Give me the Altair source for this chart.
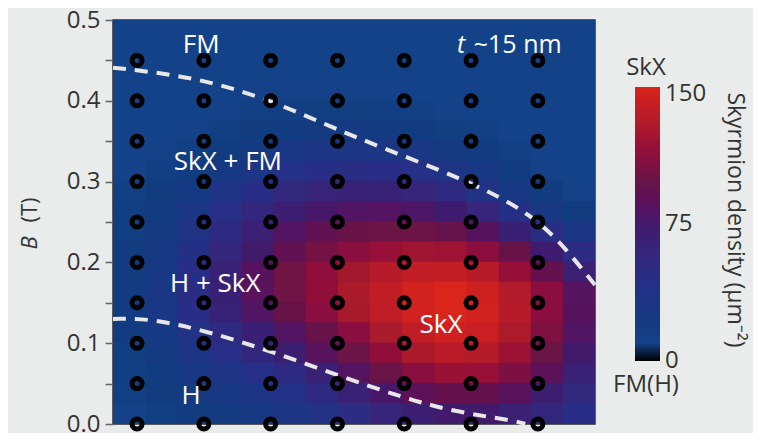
import altair as alt
import numpy as np
import pandas as pd

# ---------------- data ----------------
X_MIN, X_MAX = 0.64, 7.855     # horizontal extent (measurement column index)
B_MIN, B_MAX = 0.0, 0.5        # field (T)

density_rows = [
    [10, 10, 10, 10, 10, 10, 10, 10, 10, 10, 10, 10, 10, 10, 10],
    [10, 10, 10, 10, 10, 10, 10, 10, 10, 10, 10, 10, 10, 10, 10],
    [10, 10, 10, 10, 10, 10, 10, 10, 10, 10, 10, 10, 10, 10, 10],
    [10, 10, 10, 10, 11, 11, 11, 11, 11, 10, 10, 10, 10, 10, 10],
    [10, 10, 10, 11, 12, 13, 14, 14, 13, 12, 11, 10, 10, 10, 10],
    [10, 10, 11, 13, 16, 18, 20, 20, 19, 17, 14, 12, 10, 10, 10],
    [10, 11, 14, 18, 23, 28, 31, 32, 31, 28, 23, 17, 12, 10, 10],
    [11, 13, 18, 25, 33, 40, 45, 47, 46, 42, 35, 26, 17, 11, 10],
    [12, 16, 24, 34, 45, 55, 62, 65, 64, 60, 51, 39, 26, 15, 11],
    [13, 19, 30, 44, 58, 70, 78, 82, 83, 80, 73, 60, 43, 27, 15],
    [14, 22, 36, 52, 68, 82, 92, 98, 101, 101, 96, 85, 67, 47, 30],
    [15, 25, 41, 58, 76, 92, 104, 112, 118, 122, 121, 113, 97, 75, 50],
    [16, 27, 45, 65, 85, 102, 114, 124, 132, 138, 139, 133, 117, 95, 68],
    [17, 29, 47, 67, 86, 102, 115, 127, 138, 146, 150, 144, 130, 112, 84],
    [17, 28, 45, 64, 82, 98, 112, 125, 137, 146, 150, 146, 132, 112, 85],
    [15, 24, 38, 52, 67, 82, 97, 112, 126, 138, 145, 142, 128, 108, 82],
    [14, 21, 32, 44, 57, 71, 86, 101, 115, 127, 134, 132, 120, 100, 76],
    [13, 18, 26, 34, 42, 52, 66, 83, 99, 111, 119, 118, 107, 88, 66],
    [12, 15, 20, 26, 32, 40, 51, 65, 78, 88, 95, 95, 86, 72, 55],
    [11, 13, 16, 20, 25, 31, 39, 49, 60, 70, 76, 76, 68, 57, 45],
]

# measurement points
sample_cols = [1, 2, 3, 4, 5, 6, 7]
sample_fields = [0.0, 0.05, 0.10, 0.15, 0.20, 0.25, 0.30, 0.35, 0.40, 0.45]

# phase boundaries (dashed)
upper_x = [0.64, 1.84, 2.99, 4.26, 5.95, 6.93, 7.44, 7.855]
upper_b = [0.441, 0.430, 0.402, 0.354, 0.302, 0.259, 0.215, 0.172]
lower_x = [0.64, 1.19, 2.09, 3.04, 4.08, 5.01, 5.76, 6.66, 6.81]
lower_b = [0.130, 0.131, 0.114, 0.089, 0.058, 0.032, 0.015, 0.004, 0.0]

# region labels
label_text = ["FM", "SkX + FM", "H + SkX", "SkX", "H"]
label_x = [1.96, 2.36, 2.17, 5.55, 1.81]
label_b = [0.469, 0.324, 0.173, 0.1225, 0.035]
thick_x = [5.79, 6.04]
thick_b = [0.469, 0.469]
thick_text = ["t", "~15 nm"]

# colour bar
cbar_ticks = [0, 75, 150]
color_stops = [0, 2.5, 4, 15, 45, 75, 100, 125, 150]
color_range = ["#000000", "#000000", "#184893", "#113d80", "#282e86",
               "#3e1b6e", "#691545", "#a61a2c", "#d9251b"]

FONT = "Open Sans"

# ---------------- tables ----------------
n_rows, n_cols = len(density_rows), len(density_rows[0])
x_edges = np.linspace(X_MIN, X_MAX, n_cols + 1)
b_edges = np.linspace(B_MAX, B_MIN, n_rows + 1)
ex, eb = 0.012, 0.0009   # tiny overlap so neighbouring cells leave no seams
cells = []
for i, row in enumerate(density_rows):
    for j, v in enumerate(row):
        cells.append({"x": x_edges[j], "x2": min(x_edges[j + 1] + ex, X_MAX),
                      "b": b_edges[i + 1], "b2": min(b_edges[i] + eb, B_MAX),
                      "density": v})
cells = pd.DataFrame(cells)

points = pd.DataFrame([{"x": c, "b": f} for f in sample_fields for c in sample_cols])

bounds = pd.DataFrame(
    [{"x": x, "b": b, "line": "upper", "o": k} for k, (x, b) in enumerate(zip(upper_x, upper_b))]
    + [{"x": x, "b": b, "line": "lower", "o": k} for k, (x, b) in enumerate(zip(lower_x, lower_b))]
)

labels = pd.DataFrame({"x": label_x, "b": label_b, "text": label_text})

xscale = alt.Scale(domain=[X_MIN, X_MAX], nice=False, zero=False)
yscale = alt.Scale(domain=[B_MIN, B_MAX], nice=False, zero=False)
cscale = alt.Scale(domain=color_stops, range=color_range)

yaxis = alt.Axis(
    values=[round(0.05 * k, 2) for k in range(11)],
    labelExpr="round(datum.value*20) % 2 == 0 ? format(datum.value, '.1f') : ''",
    tickSize=8, tickWidth=1.5, tickColor="#666", domain=False, grid=False,
    labelFontSize=24, labelFont=FONT, labelColor="#333", labelPadding=5, title=None,
)

# colour-bar geometry (pixels, relative to the plot's top-left corner)
CB_X, CB_TOP, CB_LEN, CB_W = 522, 67, 274, 25

heat = alt.Chart(cells).mark_rect(strokeWidth=0).encode(
    x=alt.X("x:Q", scale=xscale, axis=None),
    x2="x2:Q",
    y=alt.Y("b:Q", scale=yscale, axis=yaxis),
    y2="b2:Q",
    color=alt.Color(
        "density:Q", scale=cscale, title=None,
        legend=alt.Legend(
            type="gradient", orient="none", legendX=CB_X, legendY=CB_TOP, direction="vertical",
            gradientLength=CB_LEN, gradientThickness=CB_W, values=cbar_ticks,
            labelExpr="''", labelFontSize=24, gradientStrokeWidth=0,
        ),
    ),
)

# colour-bar tick labels, centred on their values along the bar
cbar_lab = pd.DataFrame({"v": cbar_ticks, "text": [str(t) for t in cbar_ticks]})
cbar_labels = alt.Chart(cbar_lab).transform_calculate(
    py=f"{CB_TOP} + {CB_LEN} * (1 - datum.v / {color_stops[-1]}) + (datum.v == 150 ? 7 : 0)"
).mark_text(
    fontSize=24, font=FONT, color="#333", align="left", baseline="middle"
).encode(x=alt.value(CB_X + CB_W + 5), y=alt.Y("py:Q", scale=None), text="text:N")

pts = alt.Chart(points).mark_point(
    shape="circle", filled=False, color="#000000", strokeWidth=5, size=100, opacity=1
).encode(x=alt.X("x:Q", scale=xscale), y=alt.Y("b:Q", scale=yscale))

lines = alt.Chart(bounds).mark_line(
    strokeDash=[13, 9], strokeWidth=4, color="#e8e8e8", interpolate="basis"
).encode(
    x=alt.X("x:Q", scale=xscale), y=alt.Y("b:Q", scale=yscale),
    detail="line:N", order="o:Q",
)

txt = alt.Chart(labels).mark_text(
    color="white", fontSize=26, font=FONT, baseline="middle", align="center"
).encode(
    x=alt.X("x:Q", scale=xscale), y=alt.Y("b:Q", scale=yscale), text="text:N",
)

t_df = pd.DataFrame({"x": thick_x[:1], "b": thick_b[:1], "text": thick_text[:1]})
nm_df = pd.DataFrame({"x": thick_x[1:], "b": thick_b[1:], "text": thick_text[1:]})
t_italic = alt.Chart(t_df).mark_text(
    color="white", fontSize=25, font=FONT, fontStyle="italic", baseline="middle", align="left"
).encode(x=alt.X("x:Q", scale=xscale), y=alt.Y("b:Q", scale=yscale), text="text:N")
t_rest = alt.Chart(nm_df).mark_text(
    color="white", fontSize=25, font=FONT, baseline="middle", align="left"
).encode(x=alt.X("x:Q", scale=xscale), y=alt.Y("b:Q", scale=yscale), text="text:N")

one = pd.DataFrame({"a": [0]})
b_title = alt.Chart(one).mark_text(
    text="B", fontSize=22, font=FONT, fontStyle="italic", color="#333", angle=270, baseline="middle"
).encode(x=alt.value(-83), y=alt.value(223))
t_title = alt.Chart(one).mark_text(
    text="(T)", fontSize=22, font=FONT, color="#333", angle=270, baseline="middle"
).encode(x=alt.value(-83), y=alt.value(190))

skx_top = alt.Chart(one).mark_text(
    text="SkX", fontSize=24, font=FONT, color="#333", baseline="middle"
).encode(x=alt.value(533), y=alt.value(48))
fmh = alt.Chart(one).mark_text(
    text="FM(H)", fontSize=24, font=FONT, color="#333", baseline="middle"
).encode(x=alt.value(533), y=alt.value(365))
cbar_title = alt.Chart(one).mark_text(
    text="Skyrmion density (μm⁻²)", fontSize=23, font=FONT, color="#333", angle=90, baseline="middle"
).encode(x=alt.value(622), y=alt.value(200))

chart = alt.layer(
    heat, lines, pts, txt, t_italic, t_rest, b_title, t_title,
    skx_top, fmh, cbar_title, cbar_labels
).properties(
    width=482, height=404,
    autosize=alt.AutoSizeParams(type="none"),
    padding={"left": 105, "top": 12, "right": 158, "bottom": 9},
    background="#e9ecea",
).configure_view(stroke="#2b2b2b", strokeWidth=1.5)

chart.save("out.html", embed_options={"renderer": "svg", "actions": False})
